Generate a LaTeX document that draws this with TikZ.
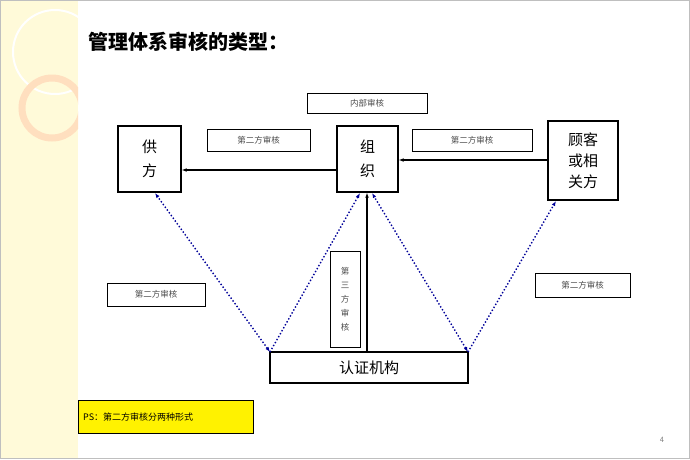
\documentclass[tikz,border=0pt]{standalone}
\usepackage{fontspec}
\newfontfamily\cjk{Noto Sans CJK SC}
\usetikzlibrary{arrows.meta}
\begin{document}
\begin{tikzpicture}[x=1pt,y=-1pt,
  bx/.style={draw,line width=1.3pt,fill=white,inner sep=0pt},
  lab/.style={draw,line width=1pt,fill=white,inner sep=0pt,font=\cjk\fontsize{8.5}{9}\selectfont,text=black!70},
  big/.style={font=\cjk\fontsize{15}{24}\selectfont,align=center},
  dot/.style={draw=blue!60!black,dotted,line width=1.4pt,-{Latex[length=5pt]}},
  ar/.style={line width=1.3pt,-{Latex[length=5pt]}}]
\useasboundingbox (0,0) rectangle (690,459);
\fill[white] (0,0) rectangle (690,459);
\fill[orange!25!yellow!15] (0,0) rectangle (78,459);
\begin{scope}
\clip (0,0) rectangle (78,459);
\draw[white,line width=2pt] (55,52) circle (42);
\draw[orange!25!white,line width=7pt] (52,108) circle (30);
\end{scope}
\draw[gray!50] (0.5,0.5) rectangle (689.5,458.5);
\node[anchor=west,font=\cjk\bfseries\fontsize{20}{24}\selectfont] (title) at (85,42) {管理体系审核的类型：};
\node[bx,minimum width=63,minimum height=66,big] (gf) at (149.5,159) {供\\方};
\node[bx,minimum width=61,minimum height=66,big] (zz) at (367.5,159) {组\\织};
\node[bx,minimum width=70,minimum height=79,big,font=\cjk\fontsize{15}{21}\selectfont] (gk) at (583,160.5) {顾客\\或相\\关方};
\node[lab,minimum width=120,minimum height=20] (nb) at (367,103) {内部审核};
\node[lab,minimum width=103,minimum height=22] (l1) at (258.5,140) {第二方审核};
\node[lab,minimum width=120,minimum height=22] (l2) at (472,140) {第二方审核};
\node[lab,minimum width=98,minimum height=23] (l3) at (156,294.5) {第二方审核};
\node[lab,minimum width=95,minimum height=24] (l4) at (582.5,285) {第二方审核};
\node[lab,minimum width=30,minimum height=96,align=center,font=\cjk\fontsize{8.5}{14}\selectfont] (l5) at (345,299) {第\\三\\方\\审\\核};
\node[bx,minimum width=198,minimum height=31,font=\cjk\fontsize{15}{18}\selectfont] (rz) at (369,367.5) {认证机构};
\node[draw,fill=yellow,minimum width=175,minimum height=33,anchor=north west,font=\cjk\fontsize{9}{11}\selectfont,text width=165] (ps) at (78,400) {PS：第二方审核分两种形式};
\node[text=gray,font=\sffamily\fontsize{8}{9}\selectfont] (pg) at (662,440) {4};
\coordinate (a) at (270,352);
\coordinate (b) at (468,352);
\draw[ar] (zz.west|-0,170) -- (gf.east|-0,170);
\draw[ar] (gk.west|-0,160) -- (zz.east|-0,160);
\draw[ar] (rz.north-|367,0) -- (zz.south-|367,0);
\draw[dot,{Latex[length=5pt]}-{Latex[length=5pt]}] (a) -- (155,193);
\draw[dot] (a) -- (360,193);
\draw[dot,{Latex[length=5pt]}-{Latex[length=5pt]}] (b) -- (372,193);
\draw[dot] (b) -- (556,201);
\end{tikzpicture}
\end{document}
